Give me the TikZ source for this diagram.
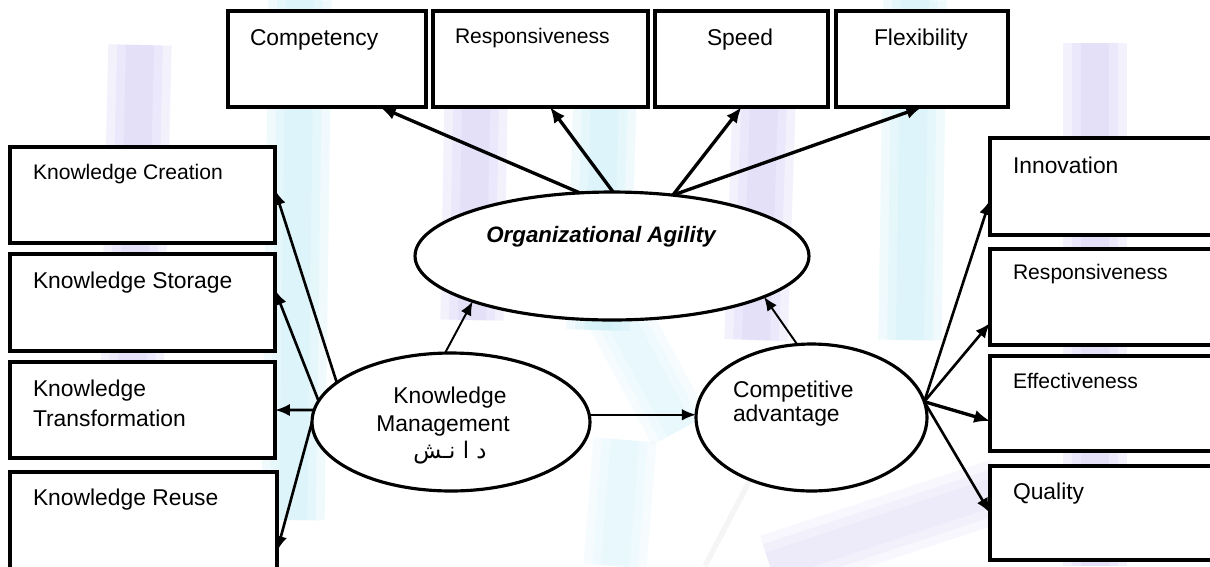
\documentclass[tikz,border=0pt]{standalone}
\usepackage{fontspec}
\setmainfont{Liberation Sans}
\newfontfamily\arabicfont[Script=Arabic]{DejaVu Sans}
\TeXXeTstate=1
\usetikzlibrary{arrows.meta,shapes.geometric}

\definecolor{lav}{HTML}{CFC9F4}
\definecolor{aqua}{HTML}{C4EEF8}

\begin{document}
\begin{tikzpicture}[x=0.02cm,y=-0.02cm,
  box/.style={draw, line width=2.1pt, fill=white, rectangle, inner sep=0pt, outer sep=0pt},
  oval/.style={draw, line width=1.8pt, fill=white, ellipse, inner sep=0pt, outer sep=0pt},
  lbl/.style={inner sep=0pt, outer sep=0pt, anchor=base west, font=\fontsize{13}{15}\selectfont},
  lbls/.style={inner sep=0pt, outer sep=0pt, anchor=base west, font=\fontsize{12}{14}\selectfont},
  arrbig/.style={-{Latex[length=9pt,width=7.5pt]}, line width=1.9pt},
  arrmid/.style={-{Latex[length=8.5pt,width=7pt]}, line width=1.5pt},
  arrthin/.style={-{Latex[length=8pt,width=6.5pt]}, line width=1.1pt},
  soft/.style={line cap=butt, opacity=0.24},
  softer/.style={line cap=butt, opacity=0.14}]

\clip (0,0) rectangle (1210,566);
\fill[white] (0,0) rectangle (1210,566);

% faint emblem in the background: soft strokes built from stacked layers
\foreach \w in {36,26,16} {
  \draw[soft, lav,  line width=\w pt] (140,45) -- (132,380);
  \draw[soft, lav,  line width=\w pt] (110,470) -- (110,566);
  \draw[soft, aqua, line width=\w pt] (300,0) -- (293,520);
  \draw[soft, lav,  line width=\w pt] (476,105) -- (472,320);
  \draw[soft, aqua, line width=\w pt] (605,95) -- (598,330);
  \draw[soft, lav,  line width=\w pt] (764,105) -- (756,340);
  \draw[soft, aqua, line width=\w pt] (915,0) -- (910,340);
  \draw[soft, lav,  line width=\w pt] (1095,43) -- (1095,566);
  \draw[softer, aqua, line width=\w pt] (625,440) -- (615,566);
  \draw[softer, lav,  line width=\w pt] (770,566) -- (1000,490);
  \draw[softer, aqua, line width=\w pt] (610,300) -- (680,430);
}
\draw[softer, gray!50, line width=3pt] (705,566) -- (750,480);

% top row
\node[box, minimum width=3.96cm, minimum height=1.92cm] (comp)  at (327,59) {};
\node[box, minimum width=4.30cm, minimum height=1.92cm] (resp)  at (540.5,59) {};
\node[box, minimum width=3.46cm, minimum height=1.92cm] (speed) at (741.5,59) {};
\node[box, minimum width=3.44cm, minimum height=1.92cm] (flex)  at (922,59) {};
\node[lbl]  (compT)  at (250,45) {Competency};
\node[lbls] (respT)  at (455,43) {Responsiveness};
\node[lbl]  (speedT) at (707,45) {Speed};
\node[lbl]  (flexT)  at (874,45) {Flexibility};

% left column
\node[box, minimum width=5.30cm, minimum height=1.92cm] (kc) at (142.5,195) {};
\node[box, minimum width=5.30cm, minimum height=1.94cm] (ks) at (142.5,302.5) {};
\node[box, minimum width=5.30cm, minimum height=1.92cm] (kt) at (142.5,410) {};
\node[box, minimum width=5.34cm, minimum height=2.56cm] (kr) at (143.5,536) {};
\node[lbls] (kcT)  at (33,179) {Knowledge Creation};
\node[lbl]  (ksT)  at (33,288) {Knowledge Storage};
\node[lbl]  (ktT1) at (33,396) {Knowledge};
\node[lbl]  (ktT2) at (33,426) {Transformation};
\node[lbl]  (krT)  at (33,505) {Knowledge Reuse};

% right column
\node[box, minimum width=4.80cm, minimum height=1.94cm] (inn)  at (1110,186.5) {};
\node[box, minimum width=4.80cm, minimum height=1.92cm] (rr)   at (1110,297) {};
\node[box, minimum width=4.80cm, minimum height=1.90cm] (eff)  at (1110,403.5) {};
\node[box, minimum width=4.80cm, minimum height=1.88cm] (qual) at (1110,513) {};
\node[lbl]  (innT)  at (1013,173) {Innovation};
\node[lbls] (rrT)   at (1013,279) {Responsiveness};
\node[lbls] (effT)  at (1013,388) {Effectiveness};
\node[lbl]  (qualT) at (1013,499) {Quality};

% constructs
\node[oval, minimum width=7.88cm, minimum height=2.56cm] (oa) at (612,256) {};
\node[oval, minimum width=5.56cm, minimum height=2.76cm] (km) at (451,422) {};
\node[oval, minimum width=4.62cm, minimum height=2.94cm] (ca) at (811.5,417.5) {};
\node[inner sep=0pt, anchor=base, font=\fontsize{12.7}{15}\selectfont\bfseries\itshape] (oaT) at (601,242) {Organizational Agility};
\node[inner sep=0pt, anchor=base, font=\fontsize{13}{15}\selectfont] (kmT1) at (450,403) {Knowledge};
\node[inner sep=0pt, anchor=base, font=\fontsize{13}{15}\selectfont] (kmT2) at (443,431) {Management};
\node[inner sep=0pt, anchor=base, font=\fontsize{13}{15}\selectfont] (kmT3) at (450,458) {\arabicfont\beginR د ا نـش\endR};
\node[lbl] (caT1) at (733,397) {Competitive};
\node[lbl] (caT2) at (733,421) {advantage};

% agility dimensions
\draw[arrbig] (oa.117.6) -- ([xshift=1.06cm]comp.south);
\draw[arrbig] (oa.89) -- ([xshift=0.19cm]resp.south);
\draw[arrbig] (oa.45.5) -- (speed.south);
\draw[arrbig] (oa.45.5) -- (flex.south);

% knowledge processes
\draw[arrmid] (km.161.1) -- ([yshift=0.10cm]kc.east);
\draw[arrmid] (km.171.3) -- ([yshift=0.25cm]ks.east);
\draw[arrmid] (km.175.5) -- (kt.east);
\draw[arrmid] (km.180) -- ([yshift=-0.30cm]kr.east);

% relations between constructs
\draw[arrthin] (km.95.6) -- (oa.198.4);
\draw[arrthin] (km.3.3) -- (km.3.3 -| ca.west);
\draw[arrthin] (ca.101.5) -- (oa.345);

% advantage dimensions
\draw[arrmid] (ca.8.6) -- ([yshift=-0.27cm]inn.west);
\draw[arrmid] (ca.8.6) -- ([yshift=-0.52cm]rr.west);
\draw[arrbig] (ca.8.6) -- ([yshift=-0.35cm]eff.west);
\draw[arrmid] (ca.8.6) -- (qual.west);
\end{tikzpicture}
\end{document}
